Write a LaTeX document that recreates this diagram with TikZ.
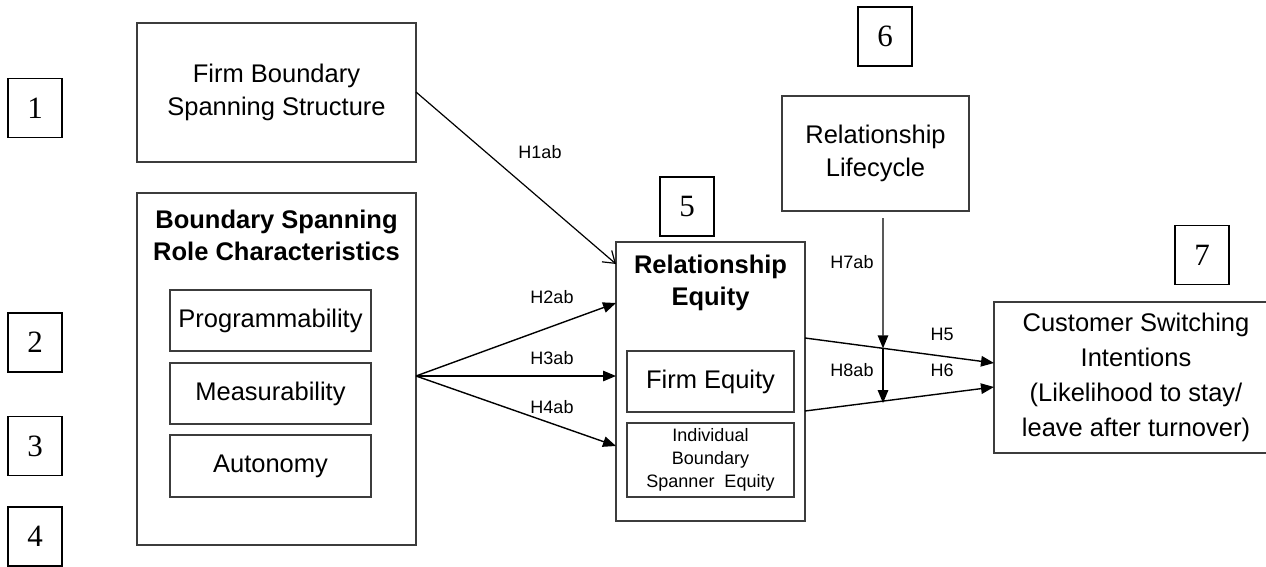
\documentclass[tikz,border=0pt]{standalone}
\usepackage{fontspec}
\setmainfont{Liberation Sans}
\newfontfamily\numfont{Liberation Serif}
\usetikzlibrary{arrows.meta,calc}
\definecolor{boxgray}{HTML}{3C3C3C}
\begin{document}
\begin{tikzpicture}[x=1pt,y=-1pt,
  box/.style={draw=boxgray, line width=1.7pt, inner sep=0pt, align=center},
  numbox/.style={draw=black, line width=1.8pt, inner sep=0pt,
    minimum width=54pt, minimum height=59pt,
    font=\numfont\fontsize{31}{34}\selectfont},
  bigtext/.style={font=\fontsize{25.5}{32.5}\selectfont},
  boldtext/.style={font=\bfseries\fontsize{25.5}{32}\selectfont, align=center},
  smalltext/.style={font=\fontsize{18}{23}\selectfont},
  hlabel/.style={font=\fontsize{18}{22}\selectfont, inner sep=0pt},
  link/.style={line width=1.4pt, -{Triangle[length=13pt,width=10.5pt]}},
  openlink/.style={line width=1.2pt, -{Straight Barb[length=11pt,width=15pt,line width=1.2pt]}}
]
\useasboundingbox (0,0) rectangle (1266,567);

% numbered tags
\node[numbox] (n1) at (35,108) {1};
\node[numbox] (n2) at (35,342.5) {2};
\node[numbox] (n3) at (35,446) {3};
\node[numbox] (n4) at (35,536.5) {4};
\node[numbox] (n5) at (687,206.5) {5};
\node[numbox] (n6) at (885,36.5) {6};
\node[numbox] (n7) at (1202,255) {7};

% antecedents
\node[box, bigtext, minimum width=279pt, minimum height=139pt] (fbs) at (276.5,92.5)
  {Firm Boundary\\Spanning Structure};
\node[box, minimum width=279pt, minimum height=352pt] (brc) at (276.5,369) {};
\node[boldtext] (brctitle) at (276.5,235) {Boundary Spanning\\Role Characteristics};
\node[box, bigtext, minimum width=201pt, minimum height=61pt] (prog) at (270.5,320.5) {Programmability};
\node[box, bigtext, minimum width=201pt, minimum height=61pt] (meas) at (270.5,393.5) {Measurability};
\node[box, bigtext, minimum width=201pt, minimum height=62pt] (auto) at (270.5,466) {Autonomy};

% mediator
\node[box, minimum width=189pt, minimum height=279pt] (req) at (710.5,381.5) {};
\node[boldtext] (reqtitle) at (710.5,282.5) {Relationship\\Equity};
\node[box, bigtext, minimum width=167pt, minimum height=61pt] (feq) at (710.5,381.5) {Firm Equity};
\node[box, smalltext, minimum width=167pt, minimum height=74pt] (ibs) at (710.5,460)
  {Individual\\Boundary\\Spanner\ \ Equity};

% moderator
\node[box, bigtext, minimum width=187pt, minimum height=115pt] (rlc) at (875.5,153.5)
  {Relationship\\Lifecycle};

% outcome
\node[box, font=\fontsize{25.5}{35}\selectfont, minimum width=284pt, minimum height=151pt] (csi) at (1136,377.5)
  {Customer Switching\\Intentions\\(Likelihood to stay/\\leave after turnover)};

% connector end points
\coordinate (h1s) at (416,92);
\coordinate (h1e) at (616,264);
\coordinate (hs) at (416,376);
\coordinate (h2e) at (616,303);
\coordinate (h3e) at (616,376);
\coordinate (h4e) at (616,446);
\coordinate (h5s) at (805,338);
\coordinate (h5e) at (994,363);
\coordinate (h6s) at (805,411);
\coordinate (h6e) at (994,387);
\coordinate (m0) at (883,218);
\coordinate (m1) at ($(h5s)!0.4127!(h5e)$);
\coordinate (m2) at ($(h6s)!0.4127!(h6e)$);

% paths
\draw[openlink] (h1s) -- (h1e);
\draw[link] (hs) -- (h2e);
\draw[link] (hs) -- (h3e);
\draw[link] (hs) -- (h4e);
\draw[link] (h5s) -- (h5e);
\draw[link] (h6s) -- (h6e);
\draw[link] (m0) -- (m1);
\draw[link] (m1) -- ([yshift=-2pt]m2);

% hypothesis labels
\node[hlabel] (l1) at (540,152) {H1ab};
\node[hlabel] (l2) at (552,297) {H2ab};
\node[hlabel] (l3) at (552,358) {H3ab};
\node[hlabel] (l4) at (552,407) {H4ab};
\node[hlabel] (l7) at (852,262) {H7ab};
\node[hlabel] (l8) at (852,370) {H8ab};
\node[hlabel] (l5) at (942,334) {H5};
\node[hlabel] (l6) at (942,370) {H6};
\end{tikzpicture}
\end{document}
